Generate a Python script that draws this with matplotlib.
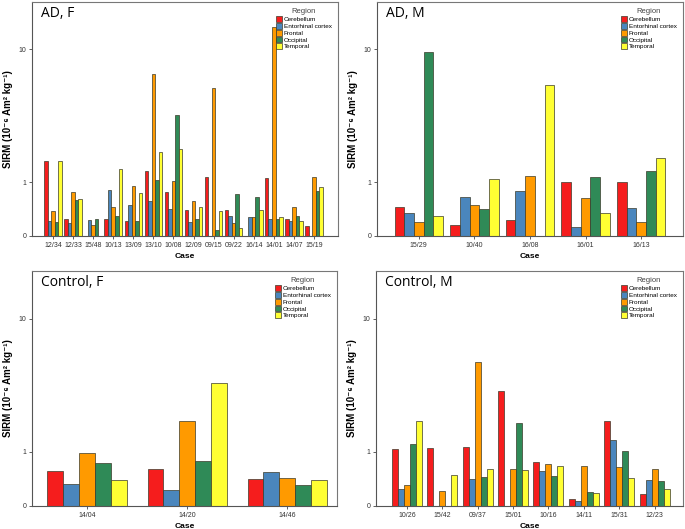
import numpy as np
import matplotlib
matplotlib.use("Agg")
import matplotlib.pyplot as plt
from matplotlib.patches import Patch

plt.rcParams['font.family'] = ['Liberation Sans', 'DejaVu Sans']

nan = np.nan
regions = ['Cerebellum', 'Entorhinal cortex', 'Frontal', 'Occipital', 'Temporal']
colors = ['#f51d1d', '#4a86bd', '#ff9a00', '#2f8a57', '#ffff33']

# AD, F
adf_cases = ['12/34', '12/33', '15/48', '10/13', '13/09', '13/10', '10/08',
             '12/09', '09/15', '09/22', '16/14', '14/01', '14/07', '15/19']
adf_cerebellum = [1.62, 0.24, nan, 0.24, 0.22, 1.29, 0.77, 0.40, 1.13, 0.40, nan, 1.10, 0.24, 0.14]
adf_entorhinal = [0.22, 0.18, 0.23, 0.81, 0.48, 0.56, 0.41, 0.20, nan, 0.30, 0.27, 0.24, 0.22, nan]
adf_frontal = [0.37, 0.75, 0.15, 0.45, 0.91, 6.98, 1.03, 0.56, 5.67, 0.18, 0.27, 13.7, 0.46, 1.14]
adf_occipital = [0.20, 0.58, 0.24, 0.29, 0.21, 1.05, 3.73, 0.24, 0.08, 0.72, 0.65, 0.24, 0.29, 0.79]
adf_temporal = [1.62, 0.60, nan, 1.37, 0.73, 1.94, 2.06, 0.46, 0.37, 0.11, 0.40, 0.27, 0.22, 0.87]

# AD, M
adm_cases = ['15/29', '10/40', '16/08', '16/01', '16/13']
adm_cerebellum = [0.45, 0.15, 0.23, 1.00, 1.00]
adm_entorhinal = [0.34, 0.66, 0.78, 0.12, 0.43]
adm_frontal = [0.20, 0.48, 1.15, 0.62, 0.19]
adm_occipital = [9.68, 0.42, nan, 1.14, 1.29]
adm_temporal = [0.30, 1.09, 5.96, 0.35, 1.74]

# Control, F
cf_cases = ['14/04', '14/20', '14/46']
cf_cerebellum = [0.56, 0.61, 0.42]
cf_entorhinal = [0.33, 0.22, 0.55]
cf_frontal = [0.96, 1.98, 0.43]
cf_occipital = [0.73, 0.77, 0.31]
cf_temporal = [0.39, 3.81, 0.39]

# Control, M
cm_cases = ['10/26', '15/42', '09/37', '15/01', '10/16', '14/11', '15/31', '12/23']
cm_cerebellum = [1.07, 1.10, 1.12, 3.34, 0.75, 0.09, 1.96, 0.16]
cm_entorhinal = [0.25, nan, 0.41, nan, 0.57, 0.06, 1.34, 0.39]
cm_frontal = [0.31, 0.21, 5.34, 0.61, 0.71, 0.66, 0.65, 0.60]
cm_occipital = [1.21, nan, 0.44, 1.88, 0.47, 0.20, 1.01, 0.37]
cm_temporal = [1.98, 0.49, 0.61, 0.59, 0.67, 0.18, 0.43, 0.25]

W, H = 685, 529
fig = plt.figure(figsize=(W / 100, H / 100), dpi=100)


def px_axes(left, top, right, bottom):
    return fig.add_axes([left / W, 1 - bottom / H, (right - left) / W, (bottom - top) / H])


def forward(y):
    return np.log10(np.maximum(y, 0) + 1)


def inverse(y):
    return 10 ** y - 1


def panel(ax, title, cases, series, width, xlim):
    x = np.arange(len(cases))
    for i, (vals, c) in enumerate(zip(series, colors)):
        ax.bar(x + (i - 2) * width, vals, width, color=c,
               edgecolor='#3a3a2a', linewidth=0.5, zorder=2)
    ax.set_yscale('function', functions=(forward, inverse))
    ax.set_ylim(0, 19.2)
    ax.set_xlim(*xlim)
    ax.set_yticks([0, 1, 10])
    ax.set_yticklabels(['0', '1', '10'])
    ax.yaxis.set_minor_locator(matplotlib.ticker.NullLocator())
    ax.set_xticks(x)
    ax.set_xticklabels(cases)
    ax.tick_params(axis='both', labelsize=5, length=2.5, width=0.6,
                   color='#444444', labelcolor='#333333', pad=1.5)
    for s in ax.spines.values():
        s.set_color('#777777')
        s.set_linewidth(0.8)
    ax.spines['left'].set_color('#555555')
    ax.spines['bottom'].set_color('#555555')

    # axis titles placed in pixels from the axes edges, as in the reference
    bbox = ax.get_position()
    w_px, h_px = bbox.width * W, bbox.height * H
    ax.set_xlabel('Case', fontsize=6, fontweight='bold')
    ax.xaxis.set_label_coords(0.5, -20 / h_px)
    ax.xaxis.label.set_va('center')
    ax.set_ylabel('SIRM (10\u207b\u2076 Am\u00b2 kg\u207b\u00b9)', fontsize=7,
                  fontweight='bold')
    ax.yaxis.set_label_coords(-24 / w_px, 0.5)
    ax.yaxis.label.set_va('center')

    ax.text(0.028, 0.985, title, transform=ax.transAxes, fontsize=10,
            va='top', ha='left', family=['Open Sans', 'DejaVu Sans'])
    handles = [Patch(facecolor=c, edgecolor='#3a3a2a', linewidth=0.5) for c in colors]
    leg = ax.legend(handles, regions, title='Region', loc='upper right',
                    bbox_to_anchor=(1.0, 1.0), fontsize=4.6, title_fontsize=5.5,
                    frameon=False, handlelength=1.0, handleheight=1.0,
                    handletextpad=0.2, labelspacing=0.12, borderaxespad=0.6)
    leg.get_title().set_color('#444444')


ax1 = px_axes(32, 2, 338, 236)
panel(ax1, 'AD, F', adf_cases,
      [adf_cerebellum, adf_entorhinal, adf_frontal, adf_occipital, adf_temporal],
      0.176, (-1.05, 14.2))

ax2 = px_axes(377, 2, 683, 236)
panel(ax2, 'AD, M', adm_cases,
      [adm_cerebellum, adm_entorhinal, adm_frontal, adm_occipital, adm_temporal],
      0.174, (-0.75, 4.75))

ax3 = px_axes(32, 271, 337, 506)
panel(ax3, 'Control, F', cf_cases,
      [cf_cerebellum, cf_entorhinal, cf_frontal, cf_occipital, cf_temporal],
      0.158, (-0.55, 2.5))

ax4 = px_axes(376, 271, 683, 506)
panel(ax4, 'Control, M', cm_cases,
      [cm_cerebellum, cm_entorhinal, cm_frontal, cm_occipital, cm_temporal],
      0.17, (-0.87, 7.8))

fig.savefig('out.png', dpi=100)
